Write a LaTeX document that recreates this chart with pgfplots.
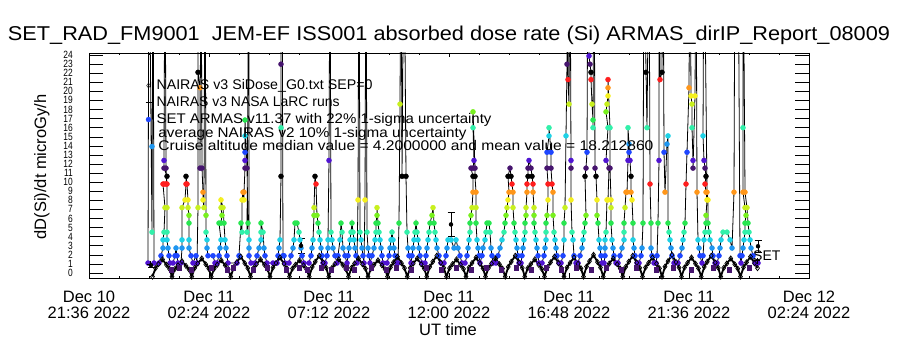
\documentclass[border=0pt]{standalone}
\usepackage{fontspec}
\setmainfont{Liberation Sans}
\usepackage{graphicx}
\usepackage{pgfplots}
\usepackage{pgfplotstable}
\pgfplotsset{compat=1.18}
\definecolor{c0}{RGB}{70,20,110}
\definecolor{c1}{RGB}{80,20,210}
\definecolor{c2}{RGB}{30,70,255}
\definecolor{c3}{RGB}{30,150,240}
\definecolor{c4}{RGB}{30,210,230}
\definecolor{c5}{RGB}{50,240,170}
\definecolor{c6}{RGB}{40,230,80}
\definecolor{c7}{RGB}{120,240,30}
\definecolor{c8}{RGB}{200,240,30}
\definecolor{c9}{RGB}{245,240,30}
\definecolor{c10}{RGB}{255,150,25}
\definecolor{c11}{RGB}{255,30,30}
\definecolor{c12}{RGB}{0,0,0}

% SET ARMAS dose rate: time (h since Dec 11 00:00 UT), dose rate, colour class
\pgfplotstableread{
x y c
-0.04 1.10 1
0.00 40 12
0.12 4.50 5
0.16 40 12
0.20 1.10 1
0.40 1.10 1
0.48 1.90 2
0.56 2.75 3
0.56 3.65 4
0.60 4.50 5
0.64 7.20 8
0.56 9.80 11
0.60 9.80 11
0.68 9.80 11
0.72 10.65 12
0.60 11.55 0
0.60 12.40 1
0.64 40 12
0.68 11.55 0
0.72 9.80 11
0.72 7.20 8
0.72 4.50 5
0.72 3.65 4
0.76 2.75 3
0.80 1.90 2
0.84 1.10 1
0.96 1.10 1
1.04 1.90 2
1.08 2.75 3
1.12 1.90 2
1.16 1.10 1
1.28 1.10 1
1.32 2.75 3
1.32 3.65 4
1.32 7.20 8
1.44 8.05 9
1.48 9.80 11
1.48 10.65 12
1.52 9.80 11
1.56 8.05 9
1.56 7.20 8
1.60 6.35 7
1.60 5.50 6
1.60 3.65 4
1.60 2.75 3
1.68 1.90 2
1.76 1.10 1
1.88 1.90 2
1.92 1.10 1
1.96 7.20 8
1.96 40 12
1.96 22.10 12
2.04 20.40 10
2.04 11.55 0
2.08 40 12
2.12 11.55 0
2.16 8.90 10
2.16 8.05 9
2.20 7.20 8
2.24 40 12
2.28 6.35 7
2.28 4.50 5
2.32 3.65 4
2.32 2.75 3
2.36 1.90 2
2.56 1.90 2
2.64 1.10 1
2.72 1.10 1
2.80 1.90 2
2.84 2.75 3
2.88 3.65 4
2.80 5.50 6
2.88 5.50 6
2.92 6.35 7
2.88 7.20 8
2.88 8.05 9
2.96 7.20 8
3.00 5.50 6
3.04 3.65 4
3.08 2.75 3
3.12 1.90 2
3.16 1.10 1
3.52 1.10 1
3.60 1.90 2
3.68 5.50 6
3.72 4.50 5
3.72 8.05 9
3.76 8.90 10
3.80 8.05 9
3.80 8.90 10
3.84 11.55 0
3.84 12.40 1
3.84 13.30 2
3.84 15.10 4
3.84 16.85 6
3.92 11.55 0
3.96 5.50 6
3.92 4.50 5
4.00 40 12
4.00 3.65 4
4.00 2.75 3
4.00 1.90 2
4.08 1.10 1
4.24 1.10 1
4.32 1.90 2
4.40 2.75 3
4.48 3.65 4
4.48 4.50 5
4.48 5.50 6
4.56 4.50 5
4.60 2.75 3
4.64 1.90 2
4.72 1.10 1
4.96 1.10 1
5.12 1.10 1
5.16 1.90 2
5.20 2.75 3
5.24 3.65 4
5.28 10.65 12
5.28 16.00 5
5.28 23.00 0
5.28 40 12
5.32 40 12
5.36 1.90 2
5.40 1.90 2
5.44 1.10 1
5.60 1.10 1
5.68 1.90 2
5.76 2.75 3
5.80 3.65 4
5.84 5.50 6
5.92 5.50 6
6.00 4.50 5
6.04 3.65 4
6.08 2.75 3
6.12 1.90 2
6.20 1.10 1
6.40 1.10 1
6.48 1.90 2
6.52 2.75 3
6.56 3.65 4
6.60 6.35 7
6.60 7.20 8
6.64 10.65 12
6.68 9.80 11
6.72 6.35 7
6.76 5.50 6
6.80 4.50 5
6.84 3.65 4
6.88 2.75 3
6.92 1.90 2
6.96 1.10 1
7.04 1.10 1
7.12 1.90 2
7.16 2.75 3
7.16 3.65 4
7.20 12.40 1
7.24 40 12
7.28 4.50 5
7.32 3.65 4
7.36 2.75 3
7.44 1.90 2
7.52 1.10 1
7.56 1.90 2
7.64 3.65 4
7.68 5.50 6
7.72 4.50 5
7.76 2.75 3
7.84 1.90 2
7.92 1.10 1
7.96 1.90 2
8.00 2.75 3
8.04 3.65 4
8.08 4.50 5
8.12 5.50 6
8.16 4.50 5
8.20 3.65 4
8.24 2.75 3
8.28 1.90 2
8.32 1.10 1
8.36 8.05 9
8.40 40 12
8.44 4.50 5
8.48 3.65 4
8.52 2.75 3
8.56 1.90 2
8.60 1.10 1
8.64 8.05 9
8.68 40 12
8.72 4.50 5
8.76 2.75 3
8.80 1.90 2
8.84 1.10 1
8.92 1.90 2
9.00 2.75 3
9.04 3.65 4
9.08 4.50 5
9.08 5.50 6
9.12 6.35 7
9.12 7.20 8
9.16 5.50 6
9.20 4.50 5
9.24 3.65 4
9.28 2.75 3
9.32 1.90 2
9.36 1.10 1
9.52 1.10 1
9.60 1.90 2
9.64 2.75 3
9.68 3.65 4
9.72 4.50 5
9.76 3.65 4
9.80 2.75 3
9.84 1.90 2
9.92 1.10 1
9.96 1.10 1
10.00 5.50 6
10.04 18.60 8
10.08 40 12
10.12 10.65 12
10.20 40 12
10.28 10.65 12
10.32 4.50 5
10.36 2.75 3
10.40 1.90 2
10.48 1.10 1
10.52 1.90 2
10.56 2.75 3
10.60 3.65 4
10.64 4.50 5
10.68 5.50 6
10.72 4.50 5
10.76 3.65 4
10.80 2.75 3
10.84 1.90 2
10.92 1.10 1
11.04 1.10 1
11.08 1.90 2
11.12 2.75 3
11.16 3.65 4
11.20 4.50 5
11.24 5.50 6
11.32 6.35 7
11.36 7.20 8
11.40 5.50 6
11.44 4.50 5
11.48 3.65 4
11.52 2.75 3
11.60 1.90 2
11.68 1.10 1
11.80 1.10 1
11.88 1.90 2
11.92 2.75 3
11.96 3.65 4
12.08 3.65 4
12.20 2.75 3
12.28 3.65 4
12.36 2.75 3
12.44 1.90 2
12.52 1.10 1
12.64 1.10 1
12.72 1.90 2
12.76 2.75 3
12.80 3.65 4
12.84 4.50 5
12.84 5.50 6
12.88 6.35 7
12.92 7.20 8
12.96 8.90 10
12.96 10.65 12
12.88 11.55 0
12.96 11.55 0
13.00 12.40 1
12.96 16.00 5
12.96 17.75 7
13.04 11.55 0
13.04 10.65 12
13.08 8.90 10
13.08 7.20 8
13.08 5.50 6
13.12 3.65 4
13.16 2.75 3
13.20 1.90 2
13.24 1.10 1
13.32 1.90 2
13.36 2.75 3
13.44 3.65 4
13.48 4.50 5
13.52 5.50 6
13.60 5.50 6
13.64 4.50 5
13.68 2.75 3
13.72 1.90 2
13.76 1.10 1
13.88 1.10 1
13.96 1.90 2
14.04 2.75 3
14.12 3.65 4
14.20 4.50 5
14.24 5.50 6
14.28 6.35 7
14.32 7.20 8
14.36 8.05 9
14.40 8.90 10
14.36 10.65 12
14.44 11.55 0
14.48 10.65 12
14.52 9.80 11
14.56 8.90 10
14.56 7.20 8
14.60 5.50 6
14.64 4.50 5
14.68 3.65 4
14.72 2.75 3
14.76 1.90 2
14.80 1.10 1
14.88 1.10 1
14.92 1.90 2
14.96 2.75 3
15.00 3.65 4
15.04 4.50 5
15.04 5.50 6
15.08 6.35 7
15.08 7.20 8
15.12 8.90 10
15.12 9.80 11
15.16 10.65 12
15.16 11.55 0
15.20 12.40 1
15.28 11.55 0
15.32 10.65 12
15.36 9.80 11
15.36 8.90 10
15.40 7.20 8
15.40 6.35 7
15.40 5.50 6
15.44 4.50 5
15.48 3.65 4
15.52 2.75 3
15.56 1.90 2
15.60 1.10 1
15.72 1.10 1
15.80 1.90 2
15.84 2.75 3
15.88 3.65 4
15.88 4.50 5
15.88 5.50 6
15.92 6.35 7
15.96 8.05 9
15.96 9.80 11
15.92 11.55 0
15.92 13.30 2
16.00 15.10 4
16.00 16.00 5
16.08 13.30 2
16.08 11.55 0
16.12 9.80 11
16.16 8.90 10
16.16 6.35 7
16.20 4.50 5
16.24 3.65 4
16.28 2.75 3
16.32 1.90 2
16.40 1.10 1
16.48 1.10 1
16.56 1.90 2
16.60 3.65 4
16.60 5.50 6
16.64 7.20 8
16.68 15.10 4
16.72 23.00 0
16.72 40 12
16.76 21.30 11
16.80 18.60 8
16.84 40 12
16.88 12.40 1
16.88 11.55 0
16.88 8.05 9
16.92 4.50 5
16.96 3.65 4
17.00 1.90 2
17.08 1.10 1
17.16 1.10 1
17.24 1.90 2
17.32 2.75 3
17.36 3.65 4
17.40 4.50 5
17.44 5.50 6
17.48 6.35 7
17.44 10.65 12
17.48 11.55 0
17.52 13.30 2
17.56 40 12
17.60 23.90 1
17.64 23.00 0
17.68 22.10 12
17.68 21.30 11
17.72 18.60 8
17.76 16.85 6
17.76 16.00 5
17.80 40 12
17.84 11.55 0
17.88 10.65 12
17.92 8.05 9
17.92 6.35 7
17.96 5.50 6
18.00 3.65 4
18.04 2.75 3
18.08 1.90 2
18.12 1.10 1
18.20 1.10 1
18.24 1.90 2
18.24 2.75 3
18.24 3.65 4
18.28 4.50 5
18.32 8.05 9
18.36 8.05 9
18.40 11.55 0
18.28 12.40 1
18.36 16.00 5
18.28 17.75 7
18.32 18.60 8
18.36 19.50 9
18.36 20.40 10
18.36 21.30 11
18.44 16.00 5
18.44 11.55 0
18.48 8.05 9
18.48 7.20 8
18.48 5.50 6
18.52 3.65 4
18.56 2.75 3
18.60 1.90 2
18.68 1.10 1
18.76 1.10 1
18.84 1.90 2
18.92 2.75 3
19.00 3.65 4
19.00 4.50 5
19.00 5.50 6
19.04 7.20 8
19.08 8.90 10
19.12 8.90 10
19.16 12.40 1
19.16 16.00 5
19.20 14.20 3
19.20 13.30 2
19.24 12.40 1
19.28 10.65 12
19.28 8.90 10
19.32 8.05 9
19.36 5.50 6
19.36 3.65 4
19.40 2.75 3
19.44 1.90 2
19.52 1.10 1
19.60 1.10 1
19.68 1.90 2
19.72 2.75 3
19.76 5.50 6
19.80 40 12
19.88 22.10 12
19.92 16.00 5
20.00 40 12
20.04 9.80 11
20.08 5.50 6
20.08 2.75 3
20.12 1.90 2
20.20 1.10 1
20.28 1.10 1
20.32 1.90 2
20.36 5.50 6
20.40 12.40 1
20.40 40 12
20.44 21.30 11
20.52 22.10 12
20.56 40 12
20.60 13.30 2
20.64 8.90 10
20.72 14.20 3
20.76 15.10 4
20.76 5.50 6
20.80 4.50 5
20.84 3.65 4
20.88 2.75 3
20.92 1.90 2
21.00 1.10 1
21.16 1.10 1
21.24 1.90 2
21.32 2.75 3
21.36 3.65 4
21.40 4.50 5
21.44 5.50 6
21.48 9.80 11
21.52 13.30 2
21.60 20.40 10
21.64 40 12
21.68 19.50 9
21.72 18.60 8
21.72 16.00 5
21.76 12.40 1
21.76 11.55 0
21.84 19.50 9
21.88 40 12
21.92 8.90 10
21.96 3.65 4
22.00 2.75 3
22.04 1.90 2
22.12 1.10 1
22.16 1.90 2
22.20 3.65 4
22.24 4.50 5
22.28 5.50 6
22.28 6.35 7
22.32 8.05 9
22.28 8.90 10
22.24 9.80 11
22.28 10.65 12
22.24 11.55 0
22.20 12.40 1
22.16 15.10 4
22.20 40 12
22.32 8.90 10
22.36 8.05 9
22.36 5.50 6
22.40 4.50 5
22.44 3.65 4
22.52 2.75 3
22.56 1.90 2
22.64 1.10 1
22.72 1.10 1
22.80 1.90 2
22.84 2.75 3
22.88 3.65 4
22.96 4.50 5
23.12 4.50 5
23.24 3.65 4
23.32 2.75 3
23.40 8.90 10
23.44 40 12
23.56 40 12
23.64 1.90 2
23.68 1.10 1
23.72 1.90 2
23.76 2.75 3
23.80 3.65 4
23.84 4.50 5
23.84 5.50 6
23.88 6.35 7
23.84 7.20 8
23.76 8.90 10
23.76 16.00 5
23.76 40 12
23.84 8.90 10
23.92 7.20 8
23.96 5.50 6
24.00 4.50 5
24.04 3.65 4
24.08 2.75 3
24.16 1.90 2
24.24 1.10 1
24.36 1.10 1
}\setdata

% NAIRAS v3 SiDose_G0 (orbit-modulated low dose)
\pgfplotstableread{
x y
0.14 -0.4
0.26 0.53
0.38 0.98
0.54 1.5
0.70 0.9
0.82 0.45
0.92 -0.4
1.04 0.46
1.16 0.85
1.32 1.3
1.48 0.78
1.60 0.39
1.71 -0.4
1.83 0.56
1.95 1.04
2.11 1.6
2.27 0.96
2.39 0.48
2.49 -0.4
2.61 0.49
2.73 0.91
2.89 1.4
3.05 0.84
3.17 0.42
3.27 -0.4
3.39 0.63
3.51 1.17
3.67 1.8
3.83 1.08
3.95 0.54
4.06 -0.4
4.18 0.53
4.30 0.98
4.46 1.5
4.62 0.9
4.74 0.45
4.84 -0.4
4.96 0.6
5.08 1.1
5.24 1.7
5.40 1.02
5.52 0.51
5.62 -0.4
5.74 0.49
5.86 0.91
6.02 1.4
6.18 0.84
6.30 0.42
6.41 -0.4
6.53 0.67
6.65 1.24
6.81 1.9
6.97 1.14
7.09 0.57
7.19 -0.4
7.31 0.53
7.43 0.98
7.59 1.5
7.75 0.9
7.87 0.45
7.98 -0.4
8.10 0.56
8.22 1.04
8.38 1.6
8.54 0.96
8.66 0.48
8.76 -0.4
8.88 0.49
9.00 0.91
9.16 1.4
9.32 0.84
9.44 0.42
9.54 -0.4
9.66 0.63
9.78 1.17
9.94 1.8
10.10 1.08
10.22 0.54
10.33 -0.4
10.45 0.56
10.57 1.04
10.73 1.6
10.89 0.96
11.01 0.48
11.11 -0.4
11.23 0.67
11.35 1.24
11.51 1.9
11.67 1.14
11.79 0.57
11.90 -0.4
12.02 0.53
12.14 0.98
12.30 1.5
12.46 0.9
12.58 0.45
12.68 -0.4
12.80 0.6
12.92 1.1
13.08 1.7
13.24 1.02
13.36 0.51
13.46 -0.4
13.58 0.56
13.70 1.04
13.86 1.6
14.02 0.96
14.14 0.48
14.25 -0.4
14.37 0.67
14.49 1.24
14.65 1.9
14.81 1.14
14.93 0.57
15.03 -0.4
15.15 0.53
15.27 0.98
15.43 1.5
15.59 0.9
15.71 0.45
15.82 -0.4
15.94 0.63
16.06 1.17
16.22 1.8
16.38 1.08
16.50 0.54
16.60 -0.4
16.72 0.6
16.84 1.1
17.00 1.7
17.16 1.02
17.28 0.51
17.38 -0.4
17.50 0.7
17.62 1.3
17.78 2.0
17.94 1.2
18.06 0.6
18.17 -0.4
18.29 0.56
18.41 1.04
18.57 1.6
18.73 0.96
18.85 0.48
18.95 -0.4
19.07 0.67
19.19 1.24
19.35 1.9
19.51 1.14
19.63 0.57
19.74 -0.4
19.86 0.6
19.98 1.1
20.14 1.7
20.30 1.02
20.42 0.51
20.52 -0.4
20.64 0.7
20.76 1.3
20.92 2.0
21.08 1.2
21.20 0.6
21.30 -0.4
21.42 0.6
21.54 1.1
21.70 1.7
21.86 1.02
21.98 0.51
22.09 -0.4
22.21 0.67
22.33 1.24
22.49 1.9
22.65 1.14
22.77 0.57
22.87 -0.4
22.99 0.56
23.11 1.04
23.27 1.6
23.43 0.96
23.55 0.48
23.66 -0.4
23.78 0.63
23.90 1.17
24.06 1.8
24.22 1.08
24.34 0.54
}\nairas

% SET lowest-level points
\pgfplotstableread{
x y
0.88 0.35
1.20 0.6
1.68 0.35
2.48 0.6
3.12 0.35
3.36 0.6
4.16 0.35
4.72 0.6
5.48 0.35
6.00 0.6
6.32 0.35
6.88 0.6
7.28 0.35
7.88 0.6
8.20 0.35
8.88 0.6
9.48 0.35
9.88 0.6
10.48 0.35
11.08 0.6
11.68 0.35
12.28 0.6
12.88 0.35
13.48 0.6
14.08 0.35
14.68 0.6
15.28 0.35
15.88 0.6
16.48 0.35
17.08 0.6
17.68 0.35
18.28 0.6
18.88 0.35
19.48 0.6
20.28 0.35
20.96 0.6
21.68 0.35
22.56 0.6
23.20 0.35
24.00 0.6
}\lowsq

\begin{document}
\begin{tikzpicture}
\path[use as bounding box] (0,0) rectangle (900pt,350pt);
\begin{axis}[
  at={(89pt,72pt)}, anchor=south west,
  scale only axis, width=720pt, height=225pt,
  xmin=-2.4, xmax=26.4, ymin=-0.55, ymax=24.23,
  xtick={-2.4,2.4,7.2,12,16.8,21.6,26.4},
  minor x tick num=3,
  xticklabels={{Dec 10\\21:36 2022},{Dec 11\\02:24 2022},{Dec 11\\07:12 2022},{Dec 11\\12:00 2022},{Dec 11\\16:48 2022},{Dec 11\\21:36 2022},{Dec 12\\02:24 2022}},
  xticklabel style={align=center, inner sep=0pt, yshift=-13pt, font=\fontsize{16.5}{16}\selectfont},
  ytick=\empty,
  tick align=inside,
  major tick length=4.5pt, minor tick length=2.25pt,
  tick style={black, line width=0.6pt},
  axis line style={line width=0.8pt},
  xlabel={UT time},
  xlabel style={at={(rel axis cs:0.4986,-0.231)}, anchor=center, inner sep=0pt, font=\fontsize{16.5}{18}\selectfont},
  title={\resizebox{882pt}{\height}{SET\_RAD\_FM9001\ \ JEM-EF ISS001 absorbed dose rate (Si) ARMAS\_dirIP\_Report\_08009}},
  title style={at={(rel axis cs:0.5,1)}, anchor=base, yshift=6pt, inner sep=0pt, font=\fontsize{20}{22}\selectfont},
  legend image code/.code={\draw[#1] plot coordinates {(0pt,0pt)};},
  legend style={at={(rel axis cs:0.0785,0.882)}, anchor=north west, draw=none, fill=none, inner sep=0pt, outer sep=0pt, row sep=5pt, column sep=5pt, nodes={inner sep=0pt, text height=10pt, text depth=2pt}, font=\fontsize{14}{16}\selectfont},
  legend cell align=left,
]
\addlegendimage{only marks, mark=diamond, mark size=2.5pt, black}
\addlegendentry{\resizebox{216pt}{\height}{NAIRAS v3 SiDose\_G0.txt SEP=0}}
\addlegendimage{only marks, mark=+, mark size=3pt, black}
\addlegendentry{\resizebox{183pt}{\height}{NAIRAS v3 NASA LaRC runs}}
\addlegendimage{only marks, mark=*, mark size=2.5pt, c2}
\addlegendentry{\resizebox{335pt}{\height}{SET ARMAS v11.37 with 22\% 1-sigma uncertainty}}

\addplot[black, line width=0.8pt, forget plot] table[x=x,y=y] {\setdata};
\addplot[scatter, only marks, mark=*, mark size=2.5pt, forget plot,
  scatter src=explicit symbolic,
  scatter/classes={0={mark=*,c0},1={mark=*,c1},2={mark=*,c2},3={mark=*,c3},4={mark=*,c4},5={mark=*,c5},6={mark=*,c6},7={mark=*,c7},8={mark=*,c8},9={mark=*,c9},10={mark=*,c10},11={mark=*,c11},12={mark=*,c12}}]
  table[x=x,y=y,meta=c] {\setdata};
\addplot[black, line width=1.8pt, mark=diamond, mark size=2.6pt, mark options={line width=0.7pt}, forget plot] table[x=x,y=y] {\nairas};
\addplot[only marks, mark=square*, mark size=2.2pt, c0, forget plot] table[x=x,y=y] {\lowsq};
\addplot[only marks, mark=+, mark size=3pt, black, line width=0.8pt, forget plot] coordinates {(0.04,0.95) (24.32,1.35)};
\addplot[only marks, mark=none, black, forget plot,
  error bars/.cd, y dir=both, y explicit,
  error bar style={draw=black, line width=0.8pt},
  error mark options={rotate=90, mark size=3.5pt, line width=0.8pt, black}]
  coordinates {(0.08,0.85) +- (0,0.25) (6.08,3.0) +- (0,0.85) (12.08,5.35) +- (0,1.35) (24.36,2.95) +- (0,0.65)};
\node[anchor=west, inner sep=0pt, font=\fontsize{14}{16}\selectfont] at (axis cs:24.16,1.87) {SET};
\end{axis}
\begin{axis}[
  at={(89pt,72pt)}, anchor=south west,
  scale only axis, width=720pt, height=225pt,
  xmin=-2.4, xmax=26.4, ymin=-0.55, ymax=24.23,
  hide x axis,
  ytick={0,1,...,24},
  /pgf/number format/assume math mode=true,
  yticklabel={\scalebox{0.8}[1]{\pgfmathprintnumber{\tick}}},
  yticklabel style={inner sep=0pt, xshift=-16pt, text height=7pt, text depth=0pt, font=\fontsize{10.5}{11}\selectfont},
  tick align=inside,
  major tick length=14.4pt,
  tick style={black, line width=0.6pt},
  axis line style={line width=0.8pt},
  ylabel={dD(Si)/dt microGy/h},
  ylabel style={at={(rel axis cs:-0.0653,0.493)}, anchor=center, inner sep=0pt, font=\fontsize{16.5}{18}\selectfont},
  legend image code/.code={\draw[#1] plot coordinates {(0pt,0pt)};},
  legend style={at={(rel axis cs:0.084,0.671)}, anchor=north west, draw=none, fill=none, inner sep=0pt, outer sep=0pt, row sep=1.5pt, column sep=4pt, nodes={inner sep=0pt, text height=10pt, text depth=2pt}, font=\fontsize{14}{16}\selectfont},
  legend cell align=left,
]
\addlegendimage{empty legend}
\addlegendentry{\resizebox{308pt}{\height}{average NAIRAS v2 10\% 1-sigma uncertainty}}
\addlegendimage{only marks, mark=*, mark size=2.5pt, c3}
\addlegendentry{\resizebox{495pt}{\height}{Cruise altitude median value = 4.2000000 and mean value = 18.212860}}
\end{axis}
\end{tikzpicture}
\end{document}
